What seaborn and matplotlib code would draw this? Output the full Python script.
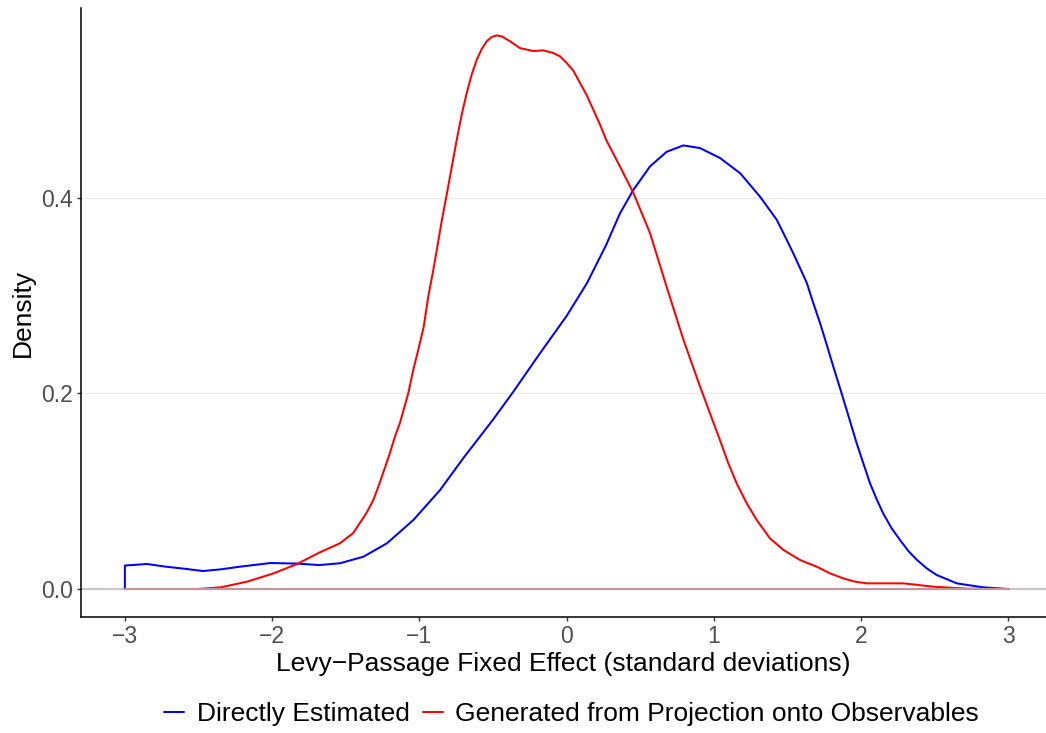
import numpy as np
import pandas as pd
import matplotlib.pyplot as plt
import seaborn as sns

sns.set_theme(style="white")
plt.rcParams['font.family'] = ['Liberation Sans', 'DejaVu Sans']
plt.rcParams['text.color'] = 'black'

# density curves
series_names = ["Directly Estimated", "Generated from Projection onto Observables"]
series_colors = ["#0000FF", "#FF0000"]

blue_x = [-3.0, -3.0, -2.85, -2.72, -2.58, -2.47, -2.35, -2.22, -2.01, -1.83, -1.68, -1.54,
          -1.38, -1.22, -1.04, -0.86, -0.70, -0.50, -0.36, -0.18, 0.0, 0.14, 0.27,
          0.363, 0.454, 0.567, 0.68, 0.794, 0.907, 1.043, 1.18, 1.315, 1.428, 1.496,
          1.541, 1.632, 1.677, 1.722, 1.768, 1.813, 1.858, 1.903, 1.971, 2.016, 2.062,
          2.107, 2.152, 2.209, 2.266, 2.322, 2.379, 2.447, 2.515, 2.651, 2.832, 3.0]
blue_y = [0.0, 0.024, 0.0256, 0.0228, 0.0205, 0.0184, 0.0201, 0.0228, 0.0266, 0.026, 0.0245, 0.0263,
          0.033, 0.0467, 0.0706, 0.101, 0.134, 0.173, 0.202, 0.241, 0.279, 0.313, 0.352,
          0.384, 0.408, 0.432, 0.447, 0.4535, 0.4508, 0.4406, 0.425, 0.401, 0.3775, 0.357,
          0.343, 0.313, 0.292, 0.272, 0.2496, 0.227, 0.2053, 0.183, 0.149, 0.1286, 0.108,
          0.0917, 0.077, 0.062, 0.050, 0.0389, 0.030, 0.0211, 0.0143, 0.0058, 0.0017, 0.0]

red_x = [-3.0, -2.51, -2.35, -2.17, -1.99, -1.83, -1.68, -1.54, -1.45, -1.36, -1.312,
         -1.27, -1.20, -1.165, -1.131, -1.075, -1.041, -1.007, -0.97, -0.939, -0.905,
         -0.875, -0.848, -0.814, -0.746, -0.712, -0.678, -0.644, -0.61, -0.576, -0.542,
         -0.508, -0.474, -0.44, -0.384, -0.316, -0.225, -0.158, -0.09, -0.044, 0.0,
         0.046, 0.137, 0.228, 0.27, 0.363, 0.454, 0.567, 0.68, 0.794, 0.907, 1.043,
         1.099, 1.156, 1.224, 1.292, 1.382, 1.473, 1.586, 1.70, 1.79, 1.88, 1.96,
         2.04, 2.15, 2.29, 2.49, 2.72, 3.0]
red_y = [0.0, 0.0, 0.0017, 0.0075, 0.016, 0.0256, 0.0372, 0.0467, 0.057, 0.0774, 0.091,
         0.108, 0.1388, 0.156, 0.17, 0.200, 0.224, 0.2445, 0.268, 0.299, 0.326,
         0.352, 0.376, 0.403, 0.459, 0.485, 0.507, 0.526, 0.541, 0.552, 0.560,
         0.5644, 0.566, 0.565, 0.560, 0.553, 0.550, 0.5507, 0.548, 0.5446, 0.538,
         0.530, 0.505, 0.4747, 0.459, 0.432, 0.405, 0.364, 0.309, 0.255, 0.207, 0.152,
         0.1286, 0.108, 0.0877, 0.0706, 0.0518, 0.040, 0.0297, 0.0228, 0.016, 0.0109, 0.0075,
         0.0058, 0.0058, 0.0058, 0.0024, 0.0003, 0.0]

base_x = [-3.0, 3.0]
base_y = [0.0, 0.0]

df = pd.concat([
    pd.DataFrame({"x": blue_x, "y": blue_y, "series": series_names[0]}),
    pd.DataFrame({"x": red_x, "y": red_y, "series": series_names[1]}),
], ignore_index=True)

fig = plt.figure(figsize=(10.46, 7.33), dpi=100)
ax = fig.add_axes([81 / 1046, 1 - 617 / 733, 965 / 1046, 609 / 733])

ax.grid(axis='y', color='#EBEBEB', lw=1.0)
ax.axhline(0, color='#C8C8C8', lw=1.5, zorder=1)

sns.lineplot(data=df, x='x', y='y', hue='series', hue_order=series_names,
             palette=dict(zip(series_names, series_colors)),
             estimator=None, sort=False, lw=1.45, ax=ax, zorder=2)
sns.lineplot(x=base_x, y=base_y, color='#C4949A', lw=1.5, ax=ax, zorder=3, legend=False)

ax.set_xlim(-3.298, 3.257)
ax.set_ylim(-0.0286, 0.594)
ax.set_xticks([-3, -2, -1, 0, 1, 2, 3])
ax.set_yticks([0.0, 0.2, 0.4])
ax.set_yticklabels(['0.0', '0.2', '0.4'])

for s in ['top', 'right']:
    ax.spines[s].set_visible(False)
for s in ['left', 'bottom']:
    ax.spines[s].set_color('black')
    ax.spines[s].set_linewidth(1.1)

ax.tick_params(axis='both', bottom=True, left=True, length=3, width=1, color='#333333',
               labelsize=16.5, labelcolor='#4D4D4D', pad=3)

ax.set_xlabel('Levy\u2212Passage Fixed Effect (standard deviations)', fontsize=19, color='black')
ax.set_ylabel('Density', fontsize=19, color='black')
ax.xaxis.set_label_coords(0.5, -0.057)
ax.yaxis.set_label_coords(-0.048, 0.5)

sns.move_legend(ax, 'center', bbox_to_anchor=(0.5464, 0.026), bbox_transform=fig.transFigure,
                ncol=2, frameon=False, title=None, fontsize=19, handlelength=0.77,
                handletextpad=0.46, columnspacing=0.5, labelcolor='black')

fig.savefig('out.png', dpi=100)
